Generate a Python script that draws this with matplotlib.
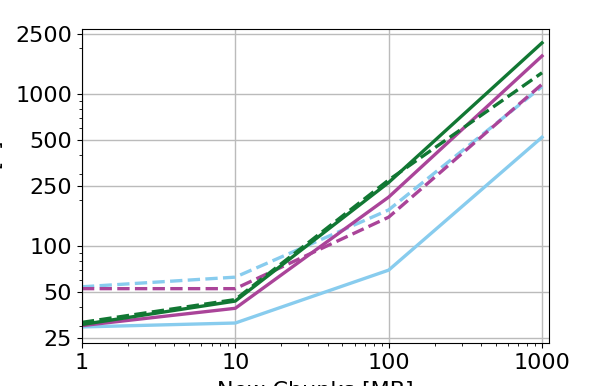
import matplotlib
matplotlib.use("Agg")
import matplotlib.pyplot as plt
from matplotlib.ticker import FixedLocator, ScalarFormatter, NullFormatter, LogLocator

# data
chunks_mb = [1, 10, 100, 1000]
green_solid = [30.5, 43.5, 262, 2170]
green_dashed = [31.5, 44.5, 272, 1380]
magenta_solid = [30.0, 39.0, 210, 1780]
magenta_dashed = [52.5, 52.5, 155, 1160]
blue_solid = [29.4, 31.2, 69.5, 520]
blue_dashed = [54.0, 62.5, 173, 1120]

y_ticks = [25, 50, 100, 250, 500, 1000, 2500]
x_ticks = [1, 10, 100, 1000]

GREEN = '#117733'
MAGENTA = '#AA4499'
BLUE = '#88CCEE'

fig = plt.figure(figsize=(5.98, 3.86), dpi=100)
ax = fig.add_axes([0.137, 0.111, 0.781, 0.814])

lw = 2.4
ax.plot(chunks_mb, blue_solid, color=BLUE, lw=lw)
ax.plot(chunks_mb, blue_dashed, color=BLUE, lw=lw, ls='--')
ax.plot(chunks_mb, magenta_solid, color=MAGENTA, lw=lw)
ax.plot(chunks_mb, magenta_dashed, color=MAGENTA, lw=lw, ls='--')
ax.plot(chunks_mb, green_solid, color=GREEN, lw=lw)
ax.plot(chunks_mb, green_dashed, color=GREEN, lw=lw, ls='--')

ax.set_xscale('log')
ax.set_yscale('log')
ax.set_xlim(1, 1110)
ax.set_ylim(23, 2680)

ax.xaxis.set_major_locator(FixedLocator(x_ticks))
ax.xaxis.set_major_formatter(ScalarFormatter())
ax.xaxis.set_minor_locator(LogLocator(subs=range(2, 10)))
ax.xaxis.set_minor_formatter(NullFormatter())
ax.yaxis.set_major_locator(FixedLocator(y_ticks))
ax.yaxis.set_major_formatter(ScalarFormatter())
ax.yaxis.set_minor_locator(LogLocator(subs=range(2, 10)))
ax.yaxis.set_minor_formatter(NullFormatter())

ax.tick_params(labelsize=16)
ax.grid(True, which='major', color='#bbbbbb', lw=1)

ax.set_xlabel('New Chunks [MB]', fontsize=16, labelpad=6)
ax.set_ylabel('Time [s]', fontsize=16, labelpad=8)

fig.savefig('out.png', dpi=100)
